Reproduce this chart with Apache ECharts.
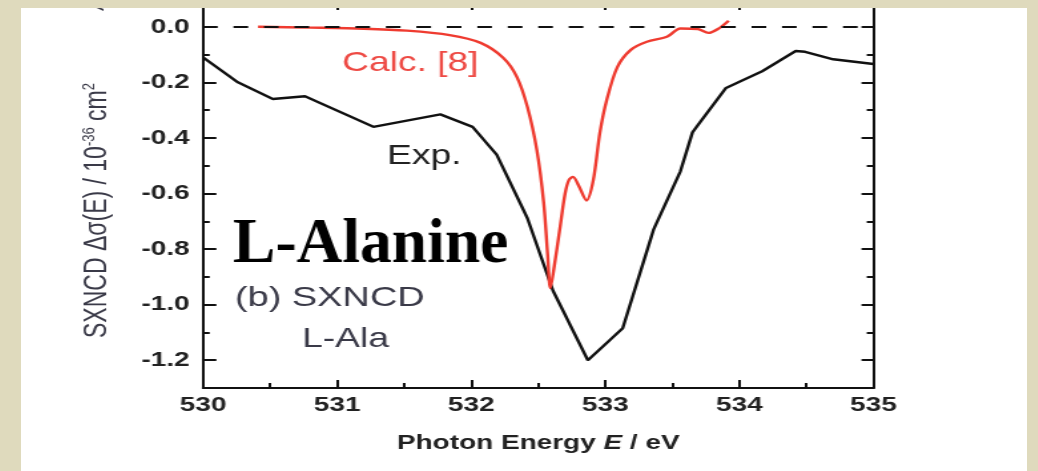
<!DOCTYPE html>
<html>
<head>
<meta charset="utf-8">
<script src="https://cdn.jsdelivr.net/npm/echarts@6/dist/echarts.min.js"></script>
<style>
  html, body { margin: 0; padding: 0; background: #dfdabd; width: 1038px; height: 471px; overflow: hidden; }
  #panel { position: absolute; left: 21px; top: 8px; width: 1006px; height: 463px; background: #fff; overflow: hidden; }
  /* the original figure is stretched sideways, so the chart is drawn narrow and widened */
  #container { width: 756px; height: 463px; transform: scaleX(1.3307); transform-origin: 0 0; }
</style>
</head>
<body>
<div id="panel"><div id="container"></div></div>
<script>
// experimental curve (Exp.)
var expE = [530.0, 530.26, 530.52, 530.76, 531.27, 531.77, 532.01, 532.19, 532.42, 532.61, 532.87, 533.13, 533.36, 533.56, 533.65, 533.90, 534.17, 534.42, 534.49, 534.70, 535.0];
var expV = [-0.11, -0.20, -0.26, -0.25, -0.36, -0.315, -0.36, -0.46, -0.69, -0.95, -1.20, -1.085, -0.73, -0.52, -0.38, -0.22, -0.16, -0.087, -0.09, -0.117, -0.134];

// calculated curve (Calc. [8])
var calcE = [530.41, 530.8, 531.2, 531.52, 531.84, 532.07, 532.24, 532.34, 532.42, 532.49, 532.54, 532.57, 532.59, 532.62, 532.66, 532.70, 532.73, 532.76, 532.80, 532.86, 532.91, 532.96, 533.01, 533.09, 533.19, 533.31, 533.46, 533.56, 533.69, 533.77, 533.84, 533.92];
var calcV = [0.0, -0.003, -0.007, -0.014, -0.03, -0.058, -0.112, -0.18, -0.29, -0.445, -0.63, -0.82, -0.94, -0.86, -0.73, -0.6, -0.55, -0.54, -0.57, -0.625, -0.553, -0.38, -0.264, -0.145, -0.083, -0.054, -0.036, -0.006, -0.008, -0.022, -0.008, 0.022];

var yMajor = [-1.2, -1.0, -0.8, -0.6, -0.4, -0.2, 0.0];
var yMinor = [-1.3, -1.1, -0.9, -0.7, -0.5, -0.3, -0.1, 0.1];

function zip(xs, ys) {
  return xs.map((x, i) => [x, ys[i]]);
}

var sx = 1 / 1.3307;
var ink = '#111';
var sans = 'Liberation Sans, Arial, sans-serif';

function yAx(pos, ticks, len, withLine, withLabel) {
  var ax = {
    type: 'value',
    position: pos,
    min: -1.3,
    max: 0.1,
    splitLine: { show: false },
    axisLine: { show: withLine, onZero: false, lineStyle: { color: ink, width: 2 } },
    axisTick: { show: true, inside: true, length: len, customValues: ticks, lineStyle: { color: ink, width: 2 } },
    axisLabel: { show: false }
  };
  if (withLabel) {
    ax.axisLabel = {
      show: true,
      customValues: yMajor,
      formatter: v => v.toFixed(1),
      margin: 10,
      fontSize: 21,
      fontWeight: 'bold',
      fontFamily: sans,
      color: '#222'
    };
    ax.name = 'SXNCD Δσ(E) / 10{s|-36} cm{s|2}';
    ax.nameLocation = 'middle';
    ax.nameGap = 66;
    ax.nameMoveOverlap = false;
    ax.nameTextStyle = {
      fontSize: 23,
      fontFamily: sans,
      color: '#3a3a48',
      lineHeight: 26,
      padding: [0, 34, 0, 0],
      rich: { s: { fontSize: 13, lineHeight: 15, verticalAlign: 'top', fontFamily: sans, color: '#3a3a48' } }
    };
  }
  return ax;
}

function xAx(pos, len, withLabel) {
  var ax = {
    type: 'value',
    position: pos,
    min: 530,
    max: 535,
    interval: 1,
    splitLine: { show: false },
    axisLine: { show: true, onZero: false, lineStyle: { color: ink, width: 2 } },
    axisTick: { inside: true, length: len, lineStyle: { color: ink, width: 2 } },
    minorTick: { show: true, splitNumber: 2, length: 5, lineStyle: { color: ink, width: 2 } },
    axisLabel: { show: false }
  };
  if (withLabel) {
    ax.axisLabel = { show: true, margin: 7, fontSize: 21, fontWeight: 'bold', fontFamily: sans, color: '#222' };
    ax.name = 'Photon Energy {i|E} / eV';
    ax.nameLocation = 'middle';
    ax.nameGap = 45;
    ax.nameMoveOverlap = false;
    ax.nameTextStyle = {
      fontSize: 21,
      fontWeight: 'bold',
      fontFamily: sans,
      color: '#222',
      rich: { i: { fontSize: 21, fontWeight: 'bold', fontStyle: 'italic', fontFamily: sans, color: '#222' } }
    };
  }
  return ax;
}

function note(text, x, y, size, color, extra) {
  return Object.assign({
    type: 'text',
    x: x,
    y: y,
    z: 10,
    style: { text: text, fontSize: size, fontFamily: sans, fill: color, align: 'left', verticalAlign: 'middle' }
  }, extra || {});
}

var dom = document.getElementById('container');
var myChart = echarts.init(dom);

var option = {
  animation: false,
  backgroundColor: '#fff',
  grid: {
    left: 136.8,
    right: 115.4,
    top: -9,
    bottom: 83,
    containLabel: false,
    outerBoundsMode: 'none'
  },
  xAxis: [xAx('bottom', 8, true), xAx('top', 11, false)],
  yAxis: [
    yAx('left', yMajor, 10, true, true),
    yAx('left', yMinor, 5, false, false),
    yAx('right', yMajor, 9, true, false),
    yAx('right', yMinor, 5, false, false)
  ],
  series: [
    {
      name: 'Exp.',
      type: 'line',
      symbol: 'none',
      data: zip(expE, expV),
      lineStyle: { color: ink, width: 2.4 },
      z: 2,
      markLine: {
        silent: true,
        symbol: ['none', 'none'],
        label: { show: false },
        lineStyle: { color: ink, width: 2.2, type: [11, 11.9] },
        data: [{ yAxis: 0 }]
      }
    },
    {
      name: 'Calc. [8]',
      type: 'line',
      symbol: 'none',
      smooth: 0.3,
      data: zip(calcE, calcV),
      lineStyle: { color: '#ef3b30', width: 2.4 },
      z: 3
    }
  ],
  graphic: [
    note('Calc. [8]', 241.2, 55, 28, '#ee4a44'),
    note('Exp.', 275, 148, 28, '#222'),
    note('(b) SXNCD', 160.8, 290, 28.5, '#3a3a48'),
    note('L-Ala', 211.2, 331, 28, '#3a3a48'),
    {
      type: 'text',
      x: 159.3,
      y: 238,
      z: 10,
      scaleX: sx,
      style: { text: 'L-Alanine', fontSize: 63.5, fontWeight: 'bold', fontFamily: 'Liberation Serif, Times New Roman, serif', fill: '#000', align: 'left', verticalAlign: 'middle' }
    },
    {
      type: 'text',
      x: 57,
      y: 2,
      z: 10,
      rotation: Math.PI / 2,
      style: { text: 'A', fontSize: 18, fontStyle: 'italic', fontFamily: sans, fill: '#3a3a48', align: 'left', verticalAlign: 'middle' }
    }
  ]
};

myChart.setOption(option);
window.onresize = function() {
  myChart.resize();
};
</script>
</body>
</html>
